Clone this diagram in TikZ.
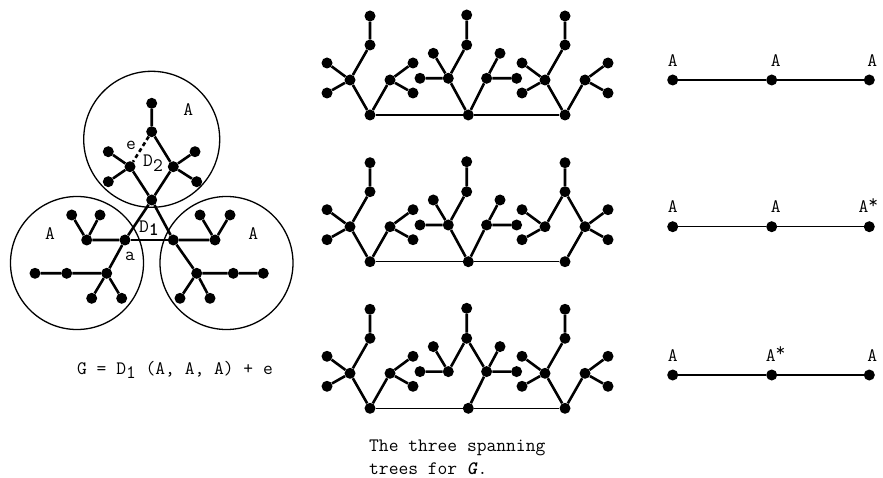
\documentclass[tikz,border=0pt]{standalone}
\usepackage{fontspec}
\usepackage{amsmath}
\usepackage{tikz}
\usetikzlibrary{
	arrows.meta,
	positioning,
	calc
}
\usepackage{xcolor}

\tikzset{
	dot/.style={circle,fill,inner sep=0pt,minimum size=11pt},
	edge/.style={line width=2.6pt},
	base/.style={line width=1.3pt},
	lbl/.style={inner sep=0pt,font=\ttfamily\fontsize{19}{22}\selectfont},
	capt/.style={inner sep=0pt,font=\ttfamily\fontsize{19}{23}\selectfont}
}

% one block of a spanning tree: name, x, y, middle layout (0/1), starred (0/1)
\newcommand{\spantree}[5]{%
	\begin{scope}[shift={(#2,#3)}]
		\ifnum#4=1
		\node[dot] (#1lh) at (-20,-36.7) {};
		\node[dot] (#1la) at (-35,-61.7) {};
		\node[dot] (#1lb) at (-48.3,-36.7) {};
		\node[dot] (#1m) at (-1.6,-70) {};
		\node[dot] (#1t) at (-1.6,-100) {};
		\node[dot] (#1rh) at (18.3,-36.7) {};
		\node[dot] (#1ra) at (31.7,-61.7) {};
		\node[dot] (#1rb) at (48.3,-36.7) {};
		\else
		\node[dot] (#1lh) at (-20,-35) {};
		\node[dot] (#1la) at (-43,-52) {};
		\node[dot] (#1lb) at (-43,-22) {};
		\node[dot] (#1m) at (0,-70) {};
		\node[dot] (#1t) at (0,-99) {};
		\node[dot] (#1rh) at (20,-35) {};
		\node[dot] (#1ra) at (43,-52) {};
		\node[dot] (#1rb) at (43,-22) {};
		\fi
		\node[dot] (#1b) at (0,0) {};
		\draw[edge] (#1t) -- (#1m) -- (#1lh);
		\draw[edge] (#1la) -- (#1lh) -- (#1lb);
		\draw[edge] (#1ra) -- (#1rh) -- (#1rb);
		\draw[edge] (#1b) -- (#1rh);
		\ifnum#5=1
		\draw[edge] (#1m) -- (#1rh);
		\else
		\draw[edge] (#1b) -- (#1lh);
		\fi
	\end{scope}}

\begin{document}
\begin{tikzpicture}[x=1pt,y=-1pt]
	
	\useasboundingbox (0,0) rectangle (883,478);
	
	% the graph G
	\draw[base] (151.7,139.3) circle (68);
	\draw[base] (77,263) circle (66.5);
	\draw[base] (226.5,263) circle (66.5);
	
	\node[dot] (tT) at (151.7,103.3) {};
	\node[dot] (tM) at (151.7,131.7) {};
	\node[dot] (tL) at (130,166.7) {};
	\node[dot] (tLa) at (108.3,151.7) {};
	\node[dot] (tLb) at (108.3,181.7) {};
	\node[dot] (tR) at (173.3,166.7) {};
	\node[dot] (tRa) at (195,151.7) {};
	\node[dot] (tRb) at (196.7,181.7) {};
	\node[dot] (tB) at (151.7,200) {};
	
	\node[dot] (la) at (125,240) {};
	\node[dot] (lH) at (86.7,240) {};
	\node[dot] (lHa) at (71.7,215) {};
	\node[dot] (lHb) at (100,215) {};
	\node[dot] (lC) at (106.7,273.3) {};
	\node[dot] (lC1) at (66.7,273.3) {};
	\node[dot] (lC2) at (35,273.3) {};
	\node[dot] (lCa) at (91.7,298.3) {};
	\node[dot] (lCb) at (121.7,298.3) {};
	
	\node[dot] (ra) at (173.3,240) {};
	\node[dot] (rH) at (215,240) {};
	\node[dot] (rHa) at (200,215) {};
	\node[dot] (rHb) at (230,215) {};
	\node[dot] (rC) at (196.7,273.3) {};
	\node[dot] (rC1) at (233.3,273.3) {};
	\node[dot] (rC2) at (263.3,273.3) {};
	\node[dot] (rCa) at (180,298.3) {};
	\node[dot] (rCb) at (210,298.3) {};
	
	\draw[edge] (tT) -- (tM) -- (tR) -- (tB) -- (tL);
	\draw[edge,dash pattern=on 4pt off 3pt] (tM) -- (tL);
	\draw[edge] (tLa) -- (tL) -- (tLb);
	\draw[edge] (tRa) -- (tR) -- (tRb);
	
	\draw[edge] (tB) -- (la);
	\draw[edge] (tB) -- (ra);
	\draw[line width=2pt] (la) -- (ra);
	
	\draw[edge] (lH) -- (la) -- (lC) -- (lC1) -- (lC2);
	\draw[edge] (lHa) -- (lH) -- (lHb);
	\draw[edge] (lCa) -- (lC) -- (lCb);
	
	\draw[edge] (rH) -- (ra) -- (rC) -- (rC1) -- (rC2);
	\draw[edge] (rHa) -- (rH) -- (rHb);
	\draw[edge] (rCa) -- (rC) -- (rCb);
	
	\node[lbl] at (188.3,110) {A};
	\node[lbl] at (50,233.3) {A};
	\node[lbl] at (253.3,233.3) {A};
	\node[lbl] at (131,145) {e};
	\node[lbl] at (153,163) {D\raisebox{-0.6ex}{2}};
	\node[lbl] at (149,228) {D\raisebox{-0.4ex}{\bfseries 1}};
	\node[lbl] at (130,256) {a};
	
	\node[capt] (gname) at (175,370) {G = D\raisebox{-0.5ex}{1} (A, A, A) + e};
	
	% the three spanning trees
	\spantree{pa}{370}{115}{0}{0}
	\spantree{pb}{468.3}{115}{1}{0}
	\spantree{pc}{565}{115}{0}{0}
	\draw[base] (pab) -- (pbb) -- (pcb);
	
	\spantree{qa}{370}{261.7}{0}{0}
	\spantree{qb}{468.3}{261.7}{1}{0}
	\spantree{qc}{565}{261.7}{0}{1}
	\draw[base] (qab) -- (qbb) -- (qcb);
	
	\spantree{sa}{370}{408.3}{0}{0}
	\spantree{sb}{468.3}{408.3}{1}{1}
	\spantree{sc}{565}{408.3}{0}{0}
	\draw[base] (sab) -- (sbb) -- (scb);
	
	\node[capt,anchor=west,align=left] (cap) at (369,457) {The three spanning\\trees for \textbf{\textit{G}}.};
	
	% the reduced trees
	\node[dot] (u1) at (672.7,80) {};
	\node[dot] (u2) at (771.7,80) {};
	\node[dot] (u3) at (869.3,80) {};
	\node[dot] (v1) at (672.7,226.7) {};
	\node[dot] (v2) at (771.7,226.7) {};
	\node[dot] (v3) at (869.3,226.7) {};
	\node[dot] (w1) at (672.7,375) {};
	\node[dot] (w2) at (771.7,375) {};
	\node[dot] (w3) at (869.3,375) {};
	\draw[base] (u1) -- (u2) -- (u3);
	\draw[base] (v1) -- (v2) -- (v3);
	\draw[base] (w1) -- (w2) -- (w3);
	
	\node[lbl,above=8pt of u1] {A};
	\node[lbl,above=8pt of u2,xshift=4pt] {A};
	\node[lbl,above=8pt of u3,xshift=3pt] {A};
	\node[lbl,above=8pt of v1] {A};
	\node[lbl,above=8pt of v2,xshift=4pt] {A};
	\node[lbl,above=8pt of v3,xshift=-1pt] {A\raisebox{0.25em}{*}};
	\node[lbl,above=8pt of w1] {A};
	\node[lbl,above=8pt of w2,xshift=4pt] {A\raisebox{0.25em}{*}};
	\node[lbl,above=8pt of w3,xshift=3pt] {A};
	
\end{tikzpicture}
\end{document}
